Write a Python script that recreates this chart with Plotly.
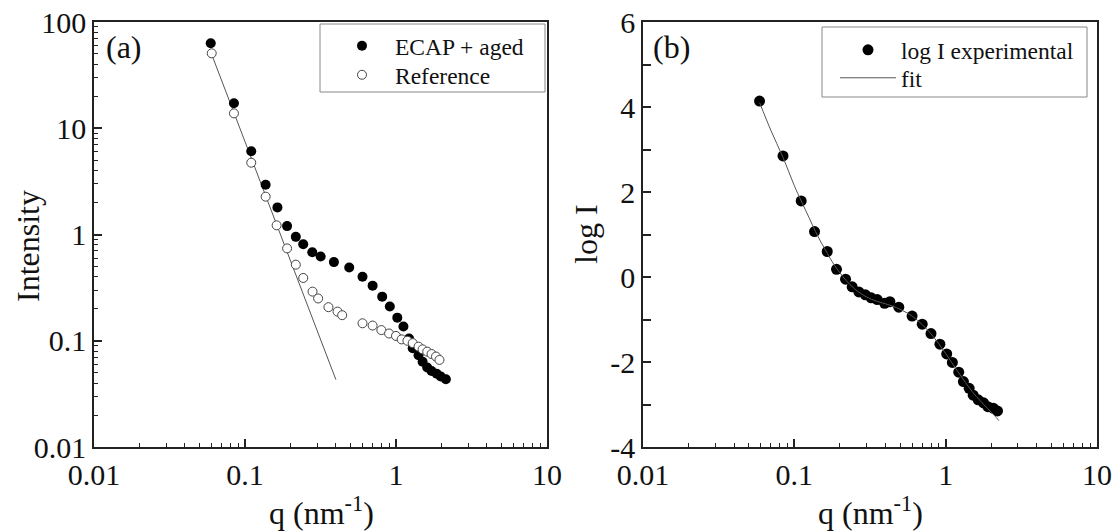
import plotly.graph_objects as go

# ---------------- data ----------------
# Panel (a): ECAP + aged (filled) and Reference (open)
q_ecap = [0.0593, 0.0845, 0.110, 0.137, 0.164, 0.190, 0.217, 0.243, 0.279, 0.317,
          0.388, 0.49, 0.60, 0.70, 0.81, 0.91, 1.02, 1.12, 1.22, 1.29, 1.41, 1.50,
          1.61, 1.72, 1.86, 1.98, 2.14]
I_ecap = [63, 17.2, 6.07, 2.94, 1.80, 1.20, 0.95, 0.81, 0.68, 0.62,
          0.55, 0.49, 0.40, 0.33, 0.26, 0.21, 0.165, 0.136, 0.105, 0.085, 0.073, 0.0635,
          0.056, 0.052, 0.049, 0.046, 0.0434]

q_ref = [0.0602, 0.0845, 0.110, 0.137, 0.162, 0.190, 0.217, 0.243, 0.28, 0.305,
         0.357, 0.41, 0.44, 0.60, 0.70, 0.80, 0.90, 1.0, 1.09, 1.19, 1.29, 1.41,
         1.50, 1.61, 1.72, 1.84, 1.94]
I_ref = [50.7, 13.8, 4.74, 2.27, 1.22, 0.74, 0.52, 0.39, 0.29, 0.25,
         0.207, 0.188, 0.174, 0.146, 0.139, 0.126, 0.117, 0.111, 0.103, 0.100, 0.095, 0.088,
         0.083, 0.079, 0.075, 0.071, 0.066]

# Power-law fit line in panel (a)
q_fit_a = [0.06, 0.40]
I_fit_a = [50.0, 0.043]

# Panel (b): log I experimental and fit
q_log = [0.0589, 0.0842, 0.111, 0.136, 0.165, 0.190, 0.218, 0.241, 0.267, 0.295,
         0.322, 0.353, 0.395, 0.428, 0.49, 0.60, 0.70, 0.80, 0.916, 1.016, 1.107,
         1.22, 1.31, 1.43, 1.52, 1.64, 1.78, 1.90, 2.07, 2.20]
logI = [4.14, 2.85, 1.79, 1.07, 0.60, 0.18, -0.05, -0.23, -0.35, -0.42,
        -0.49, -0.53, -0.62, -0.58, -0.71, -0.92, -1.11, -1.33, -1.58, -1.81, -2.01,
        -2.24, -2.46, -2.62, -2.78, -2.89, -2.96, -3.05, -3.09, -3.15]

q_fit_b = [0.059, 0.07, 0.084, 0.1, 0.111, 0.125, 0.138, 0.15, 0.165, 0.18, 0.2,
           0.22, 0.25, 0.3, 0.35, 0.4, 0.45, 0.5, 0.6, 0.7, 0.8, 0.9, 1.0, 1.1,
           1.2, 1.35, 1.5, 1.7, 1.9, 2.1, 2.25]
logI_fit = [4.10, 3.45, 2.82, 2.15, 1.79, 1.40, 1.07, 0.82, 0.56, 0.33, 0.10,
            -0.08, -0.28, -0.47, -0.57, -0.63, -0.69, -0.76, -0.92, -1.12, -1.34, -1.57,
            -1.80, -2.02, -2.22, -2.48, -2.70, -2.92, -3.10, -3.26, -3.38]

x_tickvals = [0.01, 0.1, 1, 10]
x_ticktext = ["0.01", "0.1", "1", "10"]
y_tickvals_a = [0.01, 0.1, 1, 10, 100]
y_ticktext_a = ["0.01", "0.1", "1", "10", "100"]
y_tickvals_b = [-4, -2, 0, 2, 4, 6]
y_ticktext_b = ["-4", "-2", "0", "2", "4", "6"]

# ---------------- layout geometry ----------------
FONT = "Liberation Serif"
OFF = 0                      # body margin removed by post_script below
W, H = 1120 - OFF, 531 - OFF
L, T = 94 - OFF, 22 - OFF
R, B = W - (1097 - OFF), H - (447 - OFF)
PW, PH = W - L - R, H - T - B


def px(x):
    """screen pixel x -> paper x"""
    return (x - OFF - L) / PW


def py(y):
    """screen pixel y -> paper y"""
    return 1 - (y - OFF - T) / PH


fig = go.Figure()

fig.add_trace(go.Scatter(x=q_fit_a, y=I_fit_a, mode="lines", showlegend=False,
                         line=dict(color="#555555", width=1), xaxis="x", yaxis="y"))
fig.add_trace(go.Scatter(x=q_ecap, y=I_ecap, mode="markers", name="ECAP + aged",
                         marker=dict(symbol="circle", size=10, color="black",
                                     line=dict(width=0)),
                         xaxis="x", yaxis="y", legend="legend"))
fig.add_trace(go.Scatter(x=q_ref, y=I_ref, mode="markers", name="Reference",
                         marker=dict(symbol="circle", size=9, color="white",
                                     line=dict(width=1, color="#444444")),
                         xaxis="x", yaxis="y", legend="legend2"))

fig.add_trace(go.Scatter(x=q_log, y=logI, mode="markers", name="log I experimental",
                         marker=dict(symbol="circle", size=11, color="black",
                                     line=dict(width=0)),
                         xaxis="x2", yaxis="y2", legend="legend3"))
fig.add_trace(go.Scatter(x=q_fit_b, y=logI_fit, mode="lines", name="fit",
                         line=dict(color="#555555", width=1, shape="spline"),
                         xaxis="x2", yaxis="y2", legend="legend4"))

dom_a = [0, px(547)]
dom_b = [px(643), 1]

axis_common = dict(
    showline=True, linecolor="#222222", linewidth=1.5, mirror=True,
    ticks="inside", ticklen=8, tickwidth=1.5, tickcolor="#222222",
    showgrid=False, zeroline=False, ticklabeloverflow="allow",
    tickfont=dict(family=FONT, size=30, color="#111111"),
)

minor_log_x = [m * 10 ** e for e in (-2, -1, 0) for m in range(2, 10)]
minor_log_y = [m * 10 ** e for e in (-2, -1, 0, 1) for m in range(2, 10)]

logx = dict(axis_common, type="log", range=[-2, 1], tickvals=x_tickvals,
            ticktext=x_ticktext,
            minor=dict(ticks="inside", ticklen=4, tickwidth=1.2, tickcolor="#222222",
                       tickvals=minor_log_x))

legend_font = dict(family=FONT, size=23.5, color="#111111")


def legend_at(x, y):
    return dict(x=px(x), y=py(y), xanchor="left", yanchor="middle",
                borderwidth=0, bgcolor="rgba(0,0,0,0)", font=legend_font,
                itemwidth=56, itemsizing="trace", tracegroupgap=0)


fig.update_layout(
    width=W, height=H,
    margin=dict(l=L, r=R, t=T, b=B, autoexpand=False),
    paper_bgcolor="white", plot_bgcolor="white",
    font=dict(family=FONT, color="#111111"),
    xaxis=dict(logx, domain=dom_a, anchor="y"),
    yaxis=dict(axis_common, type="log", range=[-2, 2], tickvals=y_tickvals_a,
               ticktext=y_ticktext_a, anchor="x",
               minor=dict(ticks="inside", ticklen=4, tickwidth=1.2, tickcolor="#222222",
                          tickvals=minor_log_y)),
    xaxis2=dict(logx, domain=dom_b, anchor="y2"),
    yaxis2=dict(axis_common, range=[-4, 6], tickvals=y_tickvals_b,
                ticktext=y_ticktext_b, anchor="x2",
                minor=dict(ticks="inside", ticklen=8, tickwidth=1.5, tickcolor="#222222",
                           tickvals=[-3, -1, 1, 3, 5])),
    legend=legend_at(329, 46),
    legend2=legend_at(329, 75),
    legend3=legend_at(835, 50),
    legend4=legend_at(835, 78),
    shapes=[
        dict(type="rect", xref="paper", yref="paper", x0=px(320), x1=px(545),
             y0=py(24), y1=py(92), line=dict(color="#888888", width=1), layer="below"),
        dict(type="rect", xref="paper", yref="paper", x0=px(822), x1=px(1087),
             y0=py(27), y1=py(97), line=dict(color="#888888", width=1), layer="below"),
    ],
    annotations=[
        dict(text="(a)", x=px(104), y=py(47), xref="paper", yref="paper",
             xanchor="left", yanchor="middle", showarrow=False,
             font=dict(family=FONT, size=32, color="#111111")),
        dict(text="(b)", x=px(651), y=py(47), xref="paper", yref="paper",
             xanchor="left", yanchor="middle", showarrow=False,
             font=dict(family=FONT, size=32, color="#111111")),
        dict(text="q (nm<sup>-1</sup>)", x=px(321), y=py(511), xref="paper", yref="paper",
             xanchor="center", yanchor="middle", showarrow=False,
             font=dict(family=FONT, size=32, color="#111111")),
        dict(text="q (nm<sup>-1</sup>)", x=px(870), y=py(511), xref="paper", yref="paper",
             xanchor="center", yanchor="middle", showarrow=False,
             font=dict(family=FONT, size=32, color="#111111")),
        dict(text="Intensity", x=px(28), y=py(246), xref="paper", yref="paper",
             xanchor="center", yanchor="middle", showarrow=False, textangle=-90,
             font=dict(family=FONT, size=32, color="#111111")),
        dict(text="log I", x=px(586), y=py(234), xref="paper", yref="paper",
             xanchor="center", yanchor="middle", showarrow=False, textangle=-90,
             font=dict(family=FONT, size=32, color="#111111")),
    ],
)

fig.write_html("out.html",
               config={"displayModeBar": False},
               post_script="document.body.style.margin='0';document.body.style.overflow='hidden';")
